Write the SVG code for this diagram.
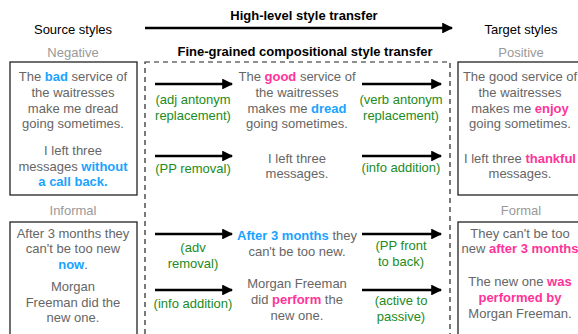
<svg xmlns="http://www.w3.org/2000/svg" width="578" height="334" viewBox="0 0 578 334">
<defs>
<style>
text{font-family:"Liberation Sans",Arial,Helvetica,sans-serif;font-size:13px;text-anchor:middle}
.t{fill:#666}
.h{fill:#000}
.b{font-weight:bold}
.lab{fill:#999}
.g{fill:#228B22}
.bl{fill:#1AA3FF;font-weight:bold}
.pk{fill:#FF3399;font-weight:bold}
.box{fill:none;stroke:#222;stroke-width:1.3}
.dash{fill:none;stroke:#222;stroke-width:1.2;stroke-dasharray:5,4}
.arr{stroke:#000;stroke-width:2.6;fill:none;marker-end:url(#ah)}
</style>
<marker id="ah" viewBox="0 0 10 10" refX="9" refY="5" markerWidth="4.2" markerHeight="4.2" orient="auto" markerUnits="strokeWidth">
<path d="M0,0 L10,5 L0,10 z" fill="#000"/>
</marker>
</defs>
<rect width="578" height="334" fill="#fff"/>

<g id="header">
<text class="h" x="73" y="34">Source styles</text>
<text class="h b" x="304" y="20">High-level style transfer</text>
<text class="h" x="521" y="34">Target styles</text>
<text class="h b" x="305" y="56">Fine-grained compositional style transfer</text>
<text class="lab" x="73" y="57">Negative</text>
<text class="lab" x="521" y="57">Positive</text>
<text class="lab" x="73" y="215">Informal</text>
<text class="lab" x="521" y="215">Formal</text>
</g>

<g id="fine-grained-frame">
<rect class="dash" x="145" y="62" width="305" height="290"/>
</g>

<g id="source-negative">
<rect class="box" x="10" y="62" width="127" height="133"/>
<text class="t" x="73" y="81">The <tspan class="bl">bad</tspan> service of</text>
<text class="t" x="73" y="97">the waitresses</text>
<text class="t" x="73" y="113">make me dread</text>
<text class="t" x="73" y="128">going sometimes.</text>
<text class="t" x="73" y="155">I left three</text>
<text class="t" x="73" y="171">messages <tspan class="bl">without</tspan></text>
<text class="bl" x="73" y="186">a call back.</text>
</g>

<g id="mid-negative">
<text class="t" x="297" y="81">The <tspan class="pk">good</tspan> service of</text>
<text class="t" x="297" y="97">the waitresses</text>
<text class="t" x="297" y="113">makes me <tspan class="bl">dread</tspan></text>
<text class="t" x="297" y="128">going sometimes.</text>
<text class="t" x="297" y="163">I left three</text>
<text class="t" x="297" y="178">messages.</text>
</g>

<g id="target-positive">
<rect class="box" x="458" y="62" width="140" height="133"/>
<text class="t" x="520" y="81">The good service of</text>
<text class="t" x="520" y="97">the waitresses</text>
<text class="t" x="520" y="113">makes me <tspan class="pk">enjoy</tspan></text>
<text class="t" x="520" y="128">going sometimes.</text>
<text class="t" x="520" y="163">I left three <tspan class="pk">thankful</tspan></text>
<text class="t" x="520" y="178">messages.</text>
</g>

<g id="source-informal">
<rect class="box" x="10" y="222" width="127" height="130"/>
<text class="t" x="73" y="238">After 3 months they</text>
<text class="t" x="73" y="253">can't be too new</text>
<text class="t" x="73" y="269"><tspan class="bl">now</tspan>.</text>
<text class="t" x="73" y="291">Morgan</text>
<text class="t" x="73" y="307">Freeman did the</text>
<text class="t" x="73" y="322">new one.</text>
</g>

<g id="mid-informal">
<text class="t" x="297" y="240"><tspan class="bl">After 3 months</tspan> they</text>
<text class="t" x="297" y="256">can't be too new.</text>
<text class="t" x="297" y="288">Morgan Freeman</text>
<text class="t" x="297" y="304">did <tspan class="pk">perform</tspan> the</text>
<text class="t" x="297" y="320">new one.</text>
</g>

<g id="target-formal">
<rect class="box" x="458" y="222" width="140" height="130"/>
<text class="t" x="520" y="238">They can't be too</text>
<text class="t" x="520" y="253">new <tspan class="pk">after 3 months</tspan></text>
<text class="t" x="520" y="286">The new one <tspan class="pk">was</tspan></text>
<text class="pk" x="520" y="302">performed by</text>
<text class="t" x="520" y="318">Morgan Freeman.</text>
</g>

<g id="connectors">
<line class="arr" x1="145" y1="28" x2="452" y2="28"/>
<line class="arr" x1="155" y1="84" x2="232" y2="84"/>
<line class="arr" x1="155" y1="156" x2="232" y2="156"/>
<line class="arr" x1="362" y1="84" x2="441" y2="84"/>
<line class="arr" x1="362" y1="156" x2="441" y2="156"/>
<line class="arr" x1="155" y1="234" x2="232" y2="234"/>
<line class="arr" x1="155" y1="290" x2="232" y2="290"/>
<line class="arr" x1="362" y1="234" x2="441" y2="234"/>
<line class="arr" x1="362" y1="290" x2="441" y2="290"/>
<text class="g" x="193" y="104">(adj antonym</text>
<text class="g" x="193" y="120">replacement)</text>
<text class="g" x="193" y="173">(PP removal)</text>
<text class="g" x="401" y="104">(verb antonym</text>
<text class="g" x="401" y="120">replacement)</text>
<text class="g" x="401" y="172">(info addition)</text>
<text class="g" x="193" y="252">(adv</text>
<text class="g" x="193" y="268">removal)</text>
<text class="g" x="193" y="308">(info addition)</text>
<text class="g" x="401" y="250">(PP front</text>
<text class="g" x="401" y="266">to back)</text>
<text class="g" x="401" y="305">(active to</text>
<text class="g" x="401" y="321">passive)</text>
</g>
</svg>
